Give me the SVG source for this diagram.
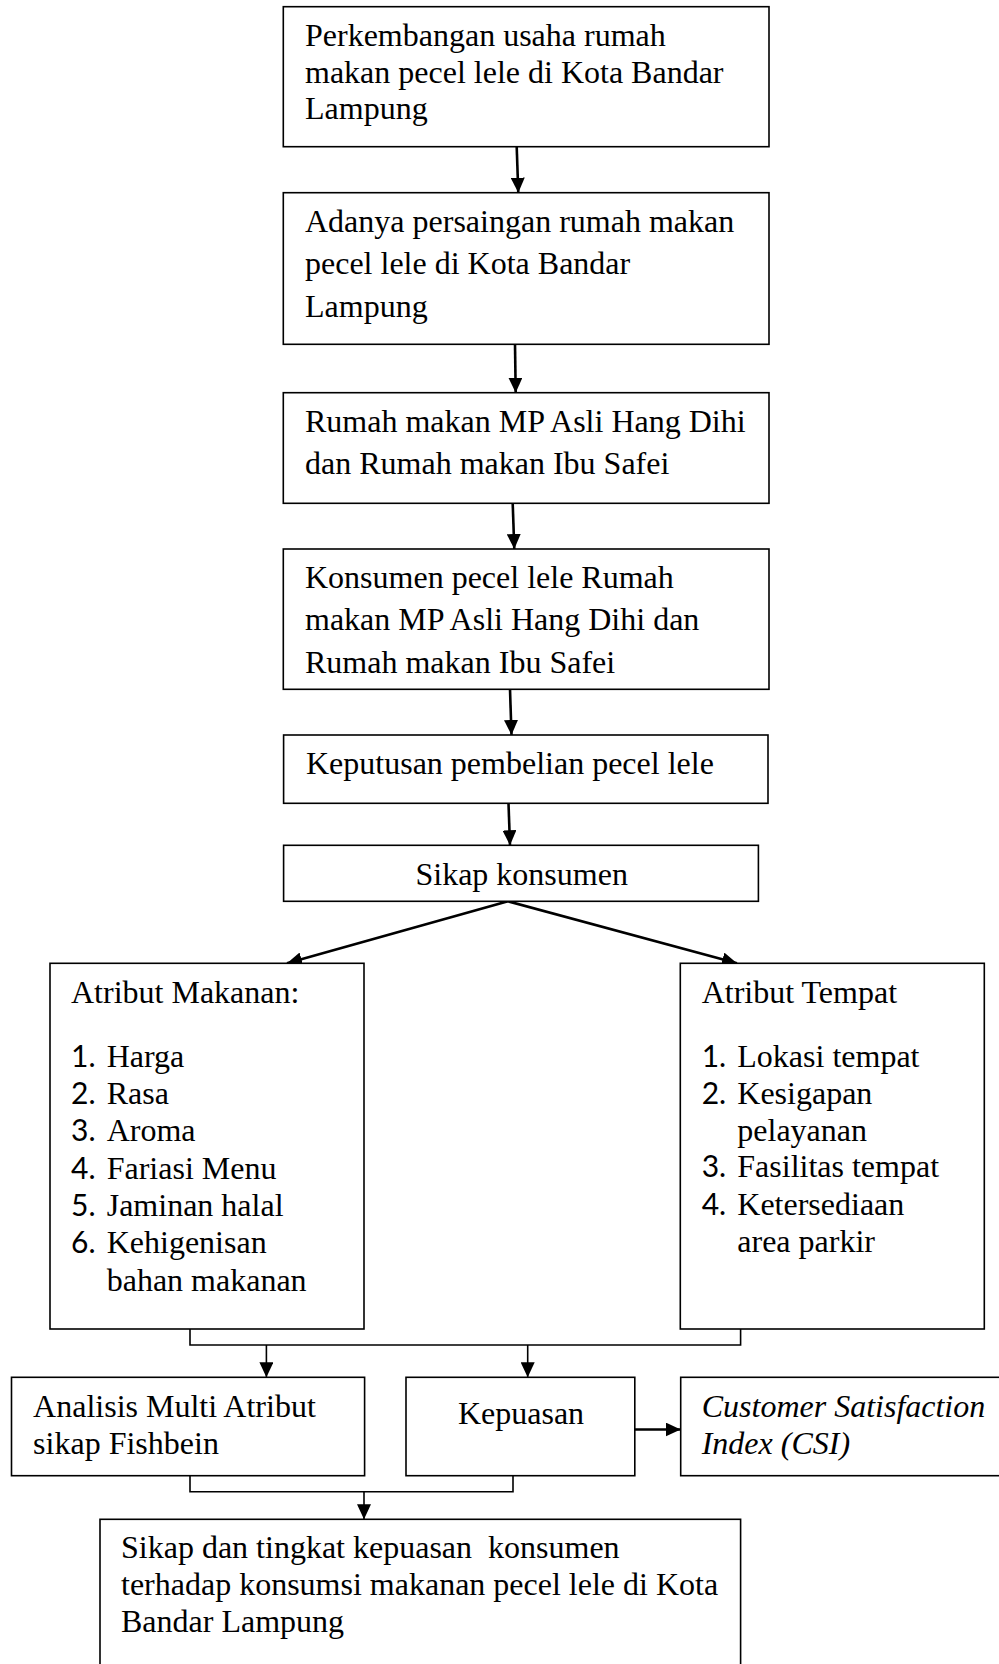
<svg xmlns="http://www.w3.org/2000/svg" width="999" height="1664" viewBox="0 0 999 1664">
<style>
.box{fill:#fff;stroke:#000;stroke-width:1.6}
.t{font-family:"Liberation Serif","Times New Roman",serif;font-size:32px;fill:#000}
.i{font-style:italic}
.n{font-family:Lato,"Liberation Sans",sans-serif;font-size:30px;fill:#000}
.c{fill:none;stroke:#000;stroke-width:1.6}
.ck{fill:none;stroke:#000;stroke-width:2.6}
</style>
<defs>
<marker id="ah" viewBox="0 0 15 14" refX="15" refY="7" markerWidth="15" markerHeight="14" markerUnits="userSpaceOnUse" orient="auto">
<path d="M0,0 L15,7 L0,14 Z" fill="#000"/>
</marker>
</defs>
<rect width="999" height="1664" fill="#fff"/>
<g id="connectors">
<line class="ck" x1="516.7" y1="146.7" x2="518.3" y2="192.7" marker-end="url(#ah)"/>
<line class="ck" x1="515" y1="344.3" x2="515.7" y2="392.7" marker-end="url(#ah)"/>
<line class="ck" x1="512.7" y1="503.3" x2="514.3" y2="549" marker-end="url(#ah)"/>
<line class="ck" x1="510" y1="689.3" x2="511.5" y2="735" marker-end="url(#ah)"/>
<line class="ck" x1="508.5" y1="803.3" x2="510" y2="845.3" marker-end="url(#ah)"/>
<line class="ck" x1="508" y1="901.3" x2="287" y2="963.3" marker-end="url(#ah)"/>
<line class="ck" x1="508" y1="901.3" x2="737" y2="963.3" marker-end="url(#ah)"/>
<path class="c" d="M190,1329 V1345 H740.6 V1329"/>
<line class="c" x1="266.4" y1="1345" x2="266.4" y2="1377.3" marker-end="url(#ah)"/>
<line class="c" x1="527.7" y1="1345" x2="527.7" y2="1377.3" marker-end="url(#ah)"/>
<line class="ck" x1="634.8" y1="1429.5" x2="680.7" y2="1429.5" marker-end="url(#ah)"/>
<path class="c" d="M190,1475.7 V1491.7 H513 V1475.7"/>
<line class="c" x1="364" y1="1491.7" x2="364" y2="1519.3" marker-end="url(#ah)"/>
</g>
<g id="n1">
<rect class="box" x="283.3" y="6.7" width="485.7" height="140"/>
<text class="t" x="305" y="45.7">Perkembangan usaha rumah</text>
<text class="t" x="305" y="82.7">makan pecel lele di Kota Bandar</text>
<text class="t" x="305" y="119.3">Lampung</text>
</g>
<g id="n2">
<rect class="box" x="283.3" y="192.7" width="485.7" height="151.6"/>
<text class="t" x="305" y="231.7">Adanya persaingan rumah makan</text>
<text class="t" x="305" y="274">pecel lele di Kota Bandar</text>
<text class="t" x="305" y="316.7">Lampung</text>
</g>
<g id="n3">
<rect class="box" x="283.3" y="392.7" width="485.7" height="110.6"/>
<text class="t" x="305" y="431.7">Rumah makan MP Asli Hang Dihi</text>
<text class="t" x="305" y="474">dan Rumah makan Ibu Safei</text>
</g>
<g id="n4">
<rect class="box" x="283.3" y="549" width="485.7" height="140.3"/>
<text class="t" x="305" y="588.3">Konsumen pecel lele Rumah</text>
<text class="t" x="305" y="630">makan MP Asli Hang Dihi dan</text>
<text class="t" x="305" y="672.7">Rumah makan Ibu Safei</text>
</g>
<g id="n5">
<rect class="box" x="283.6" y="735" width="484.4" height="68.3"/>
<text class="t" x="306" y="774">Keputusan pembelian pecel lele</text>
</g>
<g id="n6">
<rect class="box" x="283.6" y="845.3" width="474.8" height="56"/>
<text class="t" x="521.7" y="885" text-anchor="middle">Sikap konsumen</text>
</g>
<g id="n7">
<rect class="box" x="50" y="963.3" width="314" height="365.7"/>
<text class="t" x="71" y="1002.7">Atribut Makanan:</text>
<text class="n" x="71" y="1066.7">1.</text><text class="t" x="106.7" y="1066.7">Harga</text>
<text class="n" x="71" y="1104">2.</text><text class="t" x="106.7" y="1104">Rasa</text>
<text class="n" x="71" y="1141.3">3.</text><text class="t" x="106.7" y="1141.3">Aroma</text>
<text class="n" x="71" y="1178.7">4.</text><text class="t" x="106.7" y="1178.7">Fariasi Menu</text>
<text class="n" x="71" y="1216">5.</text><text class="t" x="106.7" y="1216">Jaminan halal</text>
<text class="n" x="71" y="1253.3">6.</text><text class="t" x="106.7" y="1253.3">Kehigenisan</text>
<text class="t" x="106.7" y="1290.7">bahan makanan</text>
</g>
<g id="n8">
<rect class="box" x="680.3" y="963.3" width="304" height="365.7"/>
<text class="t" x="701.7" y="1002.7">Atribut Tempat</text>
<text class="n" x="701.7" y="1066.7">1.</text><text class="t" x="737.3" y="1066.7">Lokasi tempat</text>
<text class="n" x="701.7" y="1104">2.</text><text class="t" x="737.3" y="1104">Kesigapan</text>
<text class="t" x="737.3" y="1140.5">pelayanan</text>
<text class="n" x="701.7" y="1177.3">3.</text><text class="t" x="737.3" y="1177.3">Fasilitas tempat</text>
<text class="n" x="701.7" y="1214.7">4.</text><text class="t" x="737.3" y="1214.7">Ketersediaan</text>
<text class="t" x="737.3" y="1251.7">area parkir</text>
</g>
<g id="n9">
<rect class="box" x="11.5" y="1377.3" width="353.1" height="98.4"/>
<text class="t" x="33.1" y="1417">Analisis Multi Atribut</text>
<text class="t" x="33.1" y="1454">sikap Fishbein</text>
</g>
<g id="n10">
<rect class="box" x="406" y="1377.3" width="228.8" height="98.4"/>
<text class="t" x="521" y="1424" text-anchor="middle">Kepuasan</text>
</g>
<g id="n11">
<rect class="box" x="680.7" y="1377.3" width="330" height="98.4"/>
<text class="t i" x="701.7" y="1417">Customer Satisfaction</text>
<text class="t i" x="701.7" y="1454">Index (CSI)</text>
</g>
<g id="n12">
<rect class="box" x="100" y="1519.3" width="640.6" height="170"/>
<text class="t" x="121" y="1558.3" xml:space="preserve">Sikap dan tingkat kepuasan  konsumen</text>
<text class="t" x="121" y="1595">terhadap konsumsi makanan pecel lele di Kota</text>
<text class="t" x="121" y="1631.7">Bandar Lampung</text>
</g>
</svg>
